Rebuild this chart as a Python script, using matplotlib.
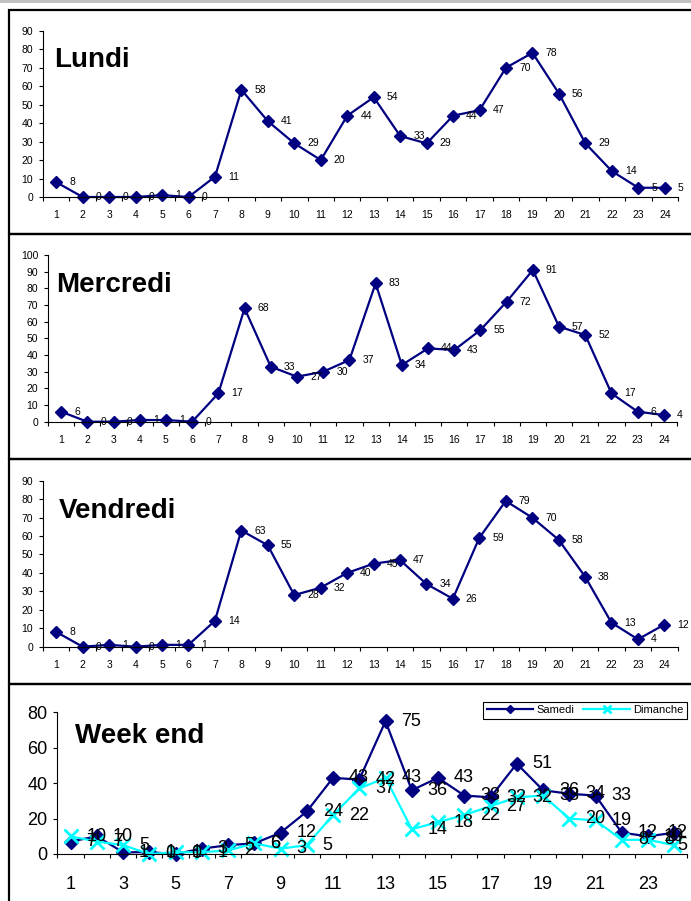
import matplotlib
matplotlib.use("Agg")
import matplotlib.pyplot as plt
from matplotlib.patches import Rectangle
from matplotlib.ticker import FixedLocator

plt.rcParams["font.family"] = ["Liberation Sans", "DejaVu Sans"]

# ── データ（時間帯 1〜24） ───────────────────────────────────────────
hours = list(range(1, 25))
lundi = [8, 0, 0, 0, 1, 0, 11, 58, 41, 29, 20, 44, 54, 33, 29, 44, 47, 70, 78, 56, 29, 14, 5, 5]
mercredi = [6, 0, 0, 1, 1, 0, 17, 68, 33, 27, 30, 37, 83, 34, 44, 43, 55, 72, 91, 57, 52, 17, 6, 4]
vendredi = [8, 0, 1, 0, 1, 1, 14, 63, 55, 28, 32, 40, 45, 47, 34, 26, 59, 79, 70, 58, 38, 13, 4, 12]
samedi = [7, 10, 1, 1, 0, 3, 5, 6, 12, 24, 43, 42, 75, 36, 43, 33, 32, 51, 36, 34, 33, 12, 10, 12]
dimanche = [10, 7, 5, 0, 1, 1, 2, 6, 3, 5, 22, 37, 43, 14, 18, 22, 27, 32, 33, 20, 19, 8, 8, 5]

weekday_titles = ["Lundi", "Mercredi", "Vendredi"]
weekday_ymax = [90, 100, 90]
weekend_title = "Week end"
weekend_labels = ["Samedi", "Dimanche"]

NAVY = "#000080"
CYAN = "#00FFFF"
W, H = 691, 901


def px_axes(fig, left, right, y0, ytop):
    """ピクセル座標 (左, 右, 0 の y, 上端の y) で axes を作る."""
    return fig.add_axes([left / W, 1 - y0 / H, (right - left) / W, (y0 - ytop) / H])


def style_axes(ax, ymax, ystep, fs, xpad, ypad, xlabels):
    ax.set_xlim(0.5, 24.5)
    ax.set_ylim(0, ymax)
    for s in ("top", "right"):
        ax.spines[s].set_visible(False)
    for s in ("left", "bottom"):
        ax.spines[s].set_linewidth(0.8)
    ax.set_yticks(range(0, ymax + 1, ystep))
    ax.set_xticks(xlabels)
    ax.xaxis.set_minor_locator(FixedLocator([h + 0.5 for h in range(0, 25)]))
    ax.tick_params(axis="x", which="major", length=0, pad=xpad, labelsize=fs)
    ax.tick_params(axis="x", which="minor", length=3, width=0.8, direction="out")
    ax.tick_params(axis="y", length=3, width=0.8, direction="out", pad=ypad, labelsize=fs)
    ax.patch.set_alpha(0)


def add_labels(ax, values, dx, fs, pull_last=False):
    for h, v in zip(hours, values):
        if pull_last and h == hours[-1]:
            # 右端のラベルは枠内に押し戻す（Excel と同じ挙動）
            ax.annotate(str(v), (h, v), xytext=(13, 0), textcoords="offset pixels",
                        ha="right", va="center", fontsize=fs, annotation_clip=False)
            continue
        ax.annotate(str(v), (h, v), xytext=(dx, 0), textcoords="offset pixels",
                    ha="left", va="center", fontsize=fs, annotation_clip=False)


fig = plt.figure(figsize=(W / 100, H / 100), dpi=100)

# 上部の灰色帯とパネル枠
fig.add_artist(Rectangle((0, 1 - 3 / H), 1, 3 / H, transform=fig.transFigure,
                         color="#c0c0c0", lw=0))
panel_tops = [10, 234, 459, 684, 910]
for top, bot in zip(panel_tops[:-1], panel_tops[1:]):
    fig.add_artist(Rectangle((8.5 / W, 1 - bot / H), 700 / W, (bot - top) / H,
                             transform=fig.transFigure, fill=False, ec="black", lw=1.6))

# ── 平日 3 パネル ──────────────────────────────────────────────────
weekday_axes_px = [(43, 678, 197, 30.7), (48, 677, 421.7, 255), (43, 677.6, 646.7, 480.7)]
title_baselines = [(54, 67), (56, 292), (59, 518)]
for title, vals, ymax, box, tpos in zip(weekday_titles, [lundi, mercredi, vendredi],
                                        weekday_ymax, weekday_axes_px, title_baselines):
    ax = px_axes(fig, *box)
    style_axes(ax, ymax, 10, 7.5, 9.5, 4, hours)
    ax.plot(hours, vals, color=NAVY, lw=1.6, marker="D", ms=6, clip_on=False)
    add_labels(ax, vals, 13, 7.5)
    fig.text(tpos[0] / W, 1 - tpos[1] / H, title, fontsize=20, fontweight="bold",
             ha="left", va="baseline")

# ── 週末パネル ────────────────────────────────────────────────────
ax = px_axes(fig, 57.4, 687.4, 854, 712.3)
style_axes(ax, 80, 20, 13, 16, 4, hours[::2])
ax.plot(hours, samedi, color=NAVY, lw=1.6, marker="D", ms=7, clip_on=False,
        label=weekend_labels[0])
ax.plot(hours, dimanche, color=CYAN, lw=1.6, marker="x", ms=9.5, mew=2, clip_on=False,
        label=weekend_labels[1])
add_labels(ax, samedi, 16, 13, pull_last=True)
add_labels(ax, dimanche, 16, 13, pull_last=True)
fig.text(75 / W, 1 - 743 / H, weekend_title, fontsize=20, fontweight="bold",
         ha="left", va="baseline")
leg = ax.legend(loc="upper right", bbox_to_anchor=(687 / W, 1 - 702 / H),
                bbox_transform=fig.transFigure, borderaxespad=0, ncol=2, fontsize=8,
                handlelength=4.2, handletextpad=0.3, columnspacing=0.8,
                markerscale=0.6, fancybox=False, framealpha=1, borderpad=0.3)
leg.get_frame().set_edgecolor("black")
leg.get_frame().set_linewidth(0.8)

fig.savefig("out.png", dpi=100)
